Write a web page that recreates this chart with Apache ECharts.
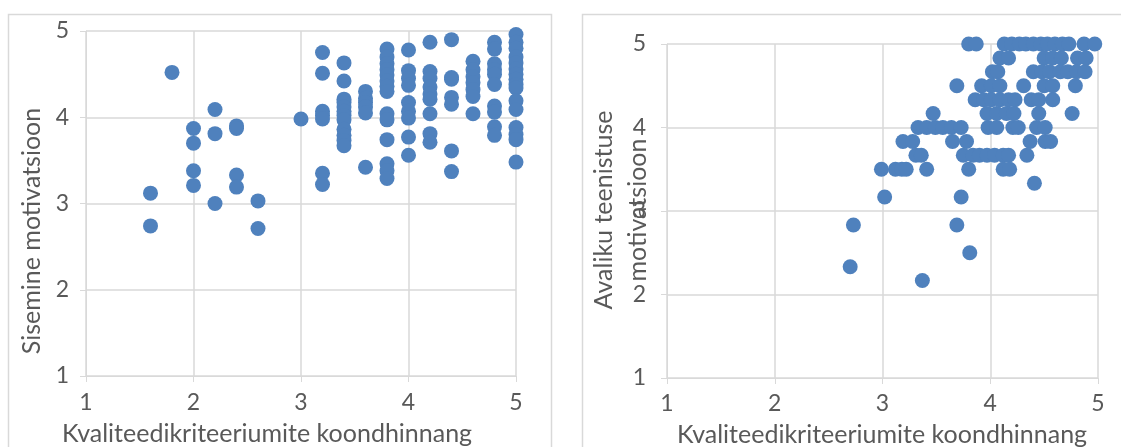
<!DOCTYPE html>
<html>
<head>
<meta charset="utf-8">
<script src="https://cdn.jsdelivr.net/npm/echarts@6/dist/echarts.min.js"></script>
<style>
  html, body { margin: 0; padding: 0; background: #ffffff; }
  #chart { width: 1121px; height: 447px; }
</style>
</head>
<body>
<div id="chart"></div>
<script>
// Axis ticks shared by both panels
const tickValues = [1, 2, 3, 4, 5];

// Left panel: quality criteria score vs. intrinsic motivation
const leftX = [
  1.6, 1.6,
  1.8,
  2.0, 2.0, 2.0, 2.0,
  2.2, 2.2, 2.2,
  2.4, 2.4, 2.4, 2.4,
  2.6, 2.6,
  3.0,
  3.2, 3.2, 3.2, 3.2, 3.2, 3.2, 3.2,
  3.4, 3.4, 3.4, 3.4, 3.4, 3.4, 3.4, 3.4, 3.4, 3.4, 3.4, 3.4,
  3.6, 3.6, 3.6, 3.6, 3.6, 3.6,
  3.8, 3.8, 3.8, 3.8, 3.8, 3.8, 3.8, 3.8, 3.8, 3.8, 3.8, 3.8, 3.8, 3.8,
  4.0, 4.0, 4.0, 4.0, 4.0, 4.0, 4.0, 4.0, 4.0,
  4.2, 4.2, 4.2, 4.2, 4.2, 4.2, 4.2, 4.2, 4.2,
  4.4, 4.4, 4.4, 4.4, 4.4, 4.4, 4.4,
  4.6, 4.6, 4.6, 4.6, 4.6, 4.6, 4.6,
  4.8, 4.8, 4.8, 4.8, 4.8, 4.8, 4.8, 4.8, 4.8, 4.8,
  5.0, 5.0, 5.0, 5.0, 5.0, 5.0, 5.0, 5.0, 5.0, 5.0, 5.0, 5.0, 5.0, 5.0, 5.0, 5.0
];
const leftY = [
  3.12, 2.74,
  4.52,
  3.87, 3.70, 3.38, 3.21,
  4.09, 3.81, 3.00,
  3.90, 3.87, 3.33, 3.19,
  3.03, 2.71,
  3.98,
  4.75, 4.51, 4.07, 4.02, 3.98, 3.35, 3.22,
  4.63, 4.42, 4.21, 4.17, 4.12, 4.07, 4.02, 3.97, 3.86, 3.79, 3.73, 3.67,
  4.30, 4.22, 4.17, 4.12, 4.05, 3.42,
  4.79, 4.70, 4.62, 4.55, 4.49, 4.42, 4.36, 4.30, 4.04, 3.97, 3.74, 3.46, 3.38, 3.29,
  4.78, 4.54, 4.45, 4.37, 4.17, 4.07, 3.99, 3.77, 3.56,
  4.87, 4.53, 4.45, 4.35, 4.27, 4.21, 4.04, 3.81, 3.71,
  4.90, 4.46, 4.44, 4.23, 4.15, 3.61, 3.37,
  4.65, 4.55, 4.47, 4.40, 4.32, 4.24, 4.04,
  4.87, 4.79, 4.62, 4.55, 4.50, 4.38, 4.13, 4.06, 3.89, 3.79,
  4.96, 4.87, 4.80, 4.70, 4.63, 4.56, 4.50, 4.44, 4.38, 4.34, 4.19, 4.09, 3.88, 3.80, 3.74, 3.48
];

// Right panel: quality criteria score vs. public service motivation
const rightX = [
  3.80, 3.87, 4.13, 4.20, 4.27, 4.33, 4.40, 4.47, 4.53, 4.60, 4.67, 4.73, 4.87, 4.97,
  4.09, 4.17, 4.50, 4.58, 4.66, 4.81, 4.89,
  4.02, 4.07, 4.40, 4.48, 4.55, 4.65, 4.72, 4.80, 4.88,
  3.69, 3.92, 4.01, 4.09, 4.31, 4.50, 4.58, 4.79,
  3.86, 3.94, 4.01, 4.09, 4.17, 4.23, 4.38, 4.45, 4.58,
  3.47, 3.97, 4.06, 4.15, 4.22, 4.45, 4.76,
  3.33, 3.41, 3.49, 3.56, 3.64, 3.73, 3.98, 4.06, 4.21, 4.26, 4.43, 4.51,
  3.19, 3.28, 3.65, 3.78, 4.37, 4.51, 4.56,
  3.31, 3.36, 3.75, 3.84, 3.90, 3.97, 4.04, 4.12, 4.17, 4.34,
  2.99, 3.12, 3.18, 3.22, 3.41, 3.80, 4.12, 4.18,
  4.41,
  3.02, 3.73,
  2.73, 3.69,
  3.81,
  2.70,
  3.37
];
const rightY = [
  5, 5, 5, 5, 5, 5, 5, 5, 5, 5, 5, 5, 5, 5,
  4.833, 4.833, 4.833, 4.833, 4.833, 4.833, 4.833,
  4.667, 4.667, 4.667, 4.667, 4.667, 4.667, 4.667, 4.667, 4.667,
  4.5, 4.5, 4.5, 4.5, 4.5, 4.5, 4.5, 4.5,
  4.333, 4.333, 4.333, 4.333, 4.333, 4.333, 4.333, 4.333, 4.333,
  4.167, 4.167, 4.167, 4.167, 4.167, 4.167, 4.167,
  4, 4, 4, 4, 4, 4, 4, 4, 4, 4, 4, 4,
  3.833, 3.833, 3.833, 3.833, 3.833, 3.833, 3.833,
  3.667, 3.667, 3.667, 3.667, 3.667, 3.667, 3.667, 3.667, 3.667, 3.667,
  3.5, 3.5, 3.5, 3.5, 3.5, 3.5, 3.5, 3.5,
  3.333,
  3.167, 3.167,
  2.833, 2.833,
  2.5,
  2.333,
  2.167
];

const xTitle = 'Kvaliteedikriteeriumite koondhinnang';
const leftYTitle = 'Sisemine motivatsioon';
const rightYTitle = ['Avaliku teenistuse', 'motivatsioon'];

const FONT = 'Lato, "Open Sans", sans-serif';
const TITLE_FONT = '25px ' + FONT;
const TEXT_COLOR = '#595959';
const GRID_COLOR = '#d9d9d9';
const DOT_COLOR = '#4f81bd';

const zip = (xs, ys) => xs.map((x, i) => [x, ys[i]]);

function valueAxis(gridIndex, labelMargin) {
  return {
    type: 'value',
    gridIndex: gridIndex,
    min: tickValues[0],
    max: tickValues[tickValues.length - 1],
    interval: 1,
    axisLine: { show: true, lineStyle: { color: GRID_COLOR, width: 1 } },
    axisTick: { show: true, length: 6, lineStyle: { color: GRID_COLOR } },
    splitLine: { show: true, lineStyle: { color: GRID_COLOR, width: 1.5 } },
    axisLabel: {
      color: TEXT_COLOR, fontFamily: FONT, fontSize: 23, margin: labelMargin,
      showMinLabel: true, showMaxLabel: true
    }
  };
}

function titleText(text, x, y, rotated) {
  return {
    type: 'text', x: x, y: y, rotation: rotated ? Math.PI / 2 : 0,
    style: { text: text, fill: TEXT_COLOR, font: TITLE_FONT, textAlign: 'center', textVerticalAlign: 'middle' }
  };
}

const chart = echarts.init(document.getElementById('chart'), null, { renderer: 'canvas' });

chart.setOption({
  animation: false,
  backgroundColor: '#ffffff',
  grid: [
    { left: 86, top: 31, width: 430, height: 345 },
    { left: 667, top: 44, width: 431, height: 334 }
  ],
  xAxis: [valueAxis(0, 15), valueAxis(1, 14)],
  yAxis: [valueAxis(0, 17), valueAxis(1, 21)],
  series: [
    {
      type: 'scatter', xAxisIndex: 0, yAxisIndex: 0, clip: false,
      symbol: 'circle', symbolSize: 15,
      itemStyle: { color: DOT_COLOR, opacity: 1 },
      data: zip(leftX, leftY)
    },
    {
      type: 'scatter', xAxisIndex: 1, yAxisIndex: 1, clip: false,
      symbol: 'circle', symbolSize: 15,
      itemStyle: { color: DOT_COLOR, opacity: 1 },
      data: zip(rightX, rightY)
    }
  ],
  graphic: [
    // panel frames
    { type: 'rect', shape: { x: 8.5, y: 14.5, width: 543, height: 460 },
      style: { fill: null, stroke: GRID_COLOR, lineWidth: 1.5 }, z: -1 },
    { type: 'rect', shape: { x: 582.5, y: 14.5, width: 560, height: 460 },
      style: { fill: null, stroke: GRID_COLOR, lineWidth: 1.5 }, z: -1 },
    // axis titles
    titleText(xTitle, 267, 434, false),
    titleText(xTitle, 882, 435, false),
    titleText(leftYTitle, 32, 231, true),
    titleText(rightYTitle[0], 604, 210, true),
    titleText(rightYTitle[1], 638, 210, true)
  ]
});
</script>
</body>
</html>
